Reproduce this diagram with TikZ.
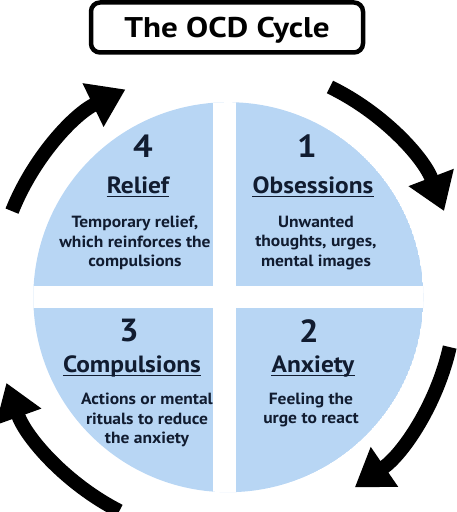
\documentclass[tikz,border=0pt]{standalone}
\usepackage{fontspec}
\setmainfont{PT Sans}[FakeStretch=1.08]
\newfontfamily\titlefont{PT Sans}[FakeStretch=1.16]
\usetikzlibrary{arrows.meta,calc}
\definecolor{qblue}{HTML}{B8D6F4}
\definecolor{navy}{HTML}{111C30}
\begin{document}
\begin{tikzpicture}[x=1pt,y=1pt,
  cyc/.style={line width=14pt, -{Triangle[length=36pt,width=46pt]}},
  num/.style={font=\fontsize{32}{32}\selectfont\bfseries, text=navy, inner sep=0pt},
  head/.style={font=\fontsize{23.5}{23.5}\selectfont\bfseries, text=navy, inner sep=0pt, anchor=base},
  desc/.style={font=\fontsize{16.2}{19.6}\selectfont\bfseries, text=navy, align=center, inner sep=0pt},
  uline/.style={navy, line width=1.4pt},
  titlebox/.style={draw=black, line width=4.5pt, rounded corners=9pt, minimum width=272pt,
    minimum height=50pt, inner sep=0pt, text height=20pt, text depth=0pt,
    font=\titlefont\fontsize{28.5}{28.5}\selectfont\bfseries}]
\useasboundingbox (0,0) rectangle (457,512);
\coordinate (C) at (228.3,214.8);
% quadrants
\begin{scope}
\clip (C) circle[radius=195];
\fill[qblue] (C) circle[radius=195];
\fill[white] (213.3,0) rectangle (236,512);
\fill[white] (0,203.7) rectangle (457,226);
\end{scope}
% title
\node[titlebox] (title) at (227,484.5) {The OCD Cycle};
% numbers
\node[num] (n4) at (143,366) {4};
\node[num] (n1) at (307,366) {1};
\node[num] (n3) at (129,181) {3};
\node[num] (n2) at (309,181) {2};
% headings
\node[head] (h4) at (138,318.7) {Relief};
\node[head] (h1) at (313,318.7) {Obsessions};
\node[head] (h3) at (132,139.5) {Compulsions};
\node[head] (h2) at (313,139.5) {Anxiety};
\foreach \h in {h1,h2,h3,h4}
  \draw[uline] ([yshift=-3.2pt]\h.base west) -- ([yshift=-3.2pt]\h.base east);
% descriptions
\node[desc] (d4) at (135,269) {Temporary relief,\\which reinforces the\\compulsions};
\node[desc] (d1) at (316,269) {Unwanted\\thoughts, urges,\\mental images};
\node[desc] (d3) at (147,92) {Actions or mental\\rituals to reduce\\the anxiety};
\node[desc] (d2) at (311,102) {Feeling the\\urge to react};
% cycle arrows
\draw[cyc] ($(C)+(64.2:233.5)$) arc[start angle=64.2, end angle=21, radius=229];
\draw[cyc] ($(C)+(-12.7:227)$) arc[start angle=-12.7, end angle=-55.5, radius=232];
\draw[cyc] ($(C)+(-117:240)$) arc[start angle=-117, end angle=-160.2, radius=232];
\draw[cyc] ($(C)+(158.3:232.8)$) arc[start angle=158.3, end angle=115.7, radius=229];
\end{tikzpicture}
\end{document}
